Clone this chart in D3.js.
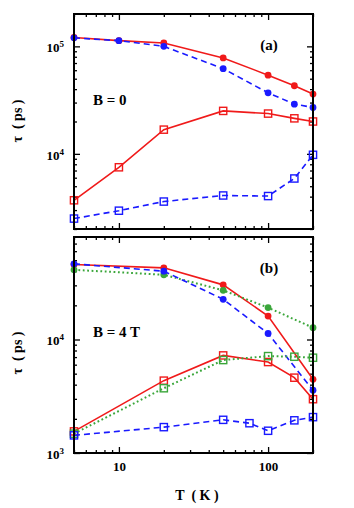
<!DOCTYPE html>
<html>
<head>
<meta charset="utf-8">
<script src="https://cdn.jsdelivr.net/npm/d3@7"></script>
<style>
  body { margin: 0; background: #fff; }
  svg text { font-family: "Liberation Serif", "DejaVu Serif", serif; font-weight: bold; }
</style>
</head>
<body>
<script>
// temperatures (K)
const tempAll = [5, 10, 20, 50, 100, 150, 200];
const tempB = [5, 20, 50, 100, 200];
const tempBSq = [5, 20, 50, 100, 150, 200];
const tempBBlueSq = [5, 20, 50, 75, 100, 150, 200];

// panel (a), B = 0
const aRedCircle = [121000, 113000, 107500, 78000, 54000, 43000, 36000];
const aBlueCircle = [120000, 113000, 100000, 62000, 37000, 29000, 27000];
const aRedSquare = [3700, 7500, 16800, 25100, 23700, 21400, 20000];
const aBlueSquare = [2500, 2960, 3600, 4100, 4050, 5900, 9800];

// panel (b), B = 4 T
const bRedCircle = [45800, 42800, 30300, 16100, 4460];
const bGreenCircle = [41100, 37200, 27100, 19100, 12700];
const bBlueCircle = [46400, 40000, 22600, 11300, 3570];
const bRedSquare = [1550, 4340, 7240, 6330, 4610, 2980];
const bGreenSquare = [1480, 3720, 6590, 7140, 7050, 6910];
const bBlueSquare = [1430, 1690, 1960, 1830, 1570, 1940, 2070];

const xMajor = [10, 100];
const xMinor = [5, 6, 7, 8, 9, 20, 30, 40, 50, 60, 70, 80, 90, 200];

const width = 354, height = 508;
const left = 74, right = 313;

const red = '#f01a1a', blue = '#1a1aff', green = '#3aa63a';

const svg = d3.select('body').append('svg')
  .attr('width', width).attr('height', height);

const x = d3.scaleLog().domain([5, 200]).range([left, right]);

function drawPanel(cfg) {
  const y = d3.scaleLog().domain(cfg.domain).range([cfg.bottom, cfg.top]);
  const g = svg.append('g');
  const h = cfg.bottom - cfg.top;

  // left axis with labels
  g.append('g').attr('transform', 'translate(' + left + ',0)')
    .call(d3.axisLeft(y).tickValues(cfg.yMinor).tickSizeInner(-3).tickSizeOuter(0).tickFormat(''));
  const lab = g.append('g').attr('transform', 'translate(' + left + ',0)')
    .call(d3.axisLeft(y).tickValues(cfg.yMajor).tickSizeInner(-6).tickSizeOuter(0).tickPadding(10).tickFormat(''));
  lab.selectAll('.tick text').each(function (d) {
    const t = d3.select(this).attr('font-size', 13).attr('fill', '#000').attr('dy', '0.4em');
    t.append('tspan').text('10');
    t.append('tspan').attr('dy', '-0.55em').attr('font-size', 9).text(Math.round(Math.log10(d)));
  });
  // right axis
  g.append('g').attr('transform', 'translate(' + right + ',0)')
    .call(d3.axisRight(y).tickValues(cfg.yMinor).tickSizeInner(-3).tickSizeOuter(0).tickFormat(''));
  g.append('g').attr('transform', 'translate(' + right + ',0)')
    .call(d3.axisRight(y).tickValues(cfg.yMajor).tickSizeInner(-6).tickSizeOuter(0).tickFormat(''));
  // bottom axis
  g.append('g').attr('transform', 'translate(0,' + cfg.bottom + ')')
    .call(d3.axisBottom(x).tickValues(xMinor).tickSizeInner(-3).tickSizeOuter(0).tickFormat(''));
  const bx = g.append('g').attr('transform', 'translate(0,' + cfg.bottom + ')')
    .call(d3.axisBottom(x).tickValues(xMajor).tickSizeInner(-6).tickSizeOuter(0).tickPadding(9)
      .tickFormat(cfg.xLabels ? d3.format('d') : ''));
  bx.selectAll('.tick text').attr('font-size', 13).attr('fill', '#000');
  // top axis
  g.append('g').attr('transform', 'translate(0,' + cfg.top + ')')
    .call(d3.axisTop(x).tickValues(xMinor).tickSizeInner(-3).tickSizeOuter(0).tickFormat(''));
  g.append('g').attr('transform', 'translate(0,' + cfg.top + ')')
    .call(d3.axisTop(x).tickValues(xMajor).tickSizeInner(-6).tickSizeOuter(0).tickFormat(''));

  g.selectAll('.domain').remove();
  g.selectAll('.tick line').attr('stroke', '#000').attr('stroke-width', 1.3);

  const plot = g.append('g');
  const line = d3.line().x(d => x(d[0])).y(d => y(d[1]));

  cfg.series.forEach(s => {
    const pts = s.xs.map((t, i) => [t, s.ys[i]]);
    plot.append('path').datum(pts)
      .attr('d', line)
      .attr('fill', 'none')
      .attr('stroke', s.color)
      .attr('stroke-width', s.dash === 'dot' ? 2 : 1.6)
      .attr('stroke-dasharray', s.dash === 'dash' ? '6,4' : s.dash === 'dot' ? '1.8,2.6' : null);
    if (s.marker === 'circle') {
      plot.selectAll(null).data(pts).enter().append('circle')
        .attr('cx', d => x(d[0])).attr('cy', d => y(d[1])).attr('r', 3.4)
        .attr('fill', s.color);
    } else {
      plot.selectAll(null).data(pts).enter().append('rect')
        .attr('x', d => x(d[0]) - 3.6).attr('y', d => y(d[1]) - 3.6)
        .attr('width', 7.2).attr('height', 7.2)
        .attr('fill', 'none').attr('stroke', s.color).attr('stroke-width', 1.4);
    }
  });

  // frame
  g.append('rect').attr('x', left).attr('y', cfg.top)
    .attr('width', right - left).attr('height', h)
    .attr('fill', 'none').attr('stroke', '#000').attr('stroke-width', 2);

  g.append('text').attr('x', 269).attr('y', cfg.top + 36).attr('text-anchor', 'middle')
    .attr('font-size', 15).text(cfg.tag);
  g.append('text').attr('x', 93).attr('y', cfg.fieldY).attr('font-size', 15).text(cfg.field);

  g.append('text')
    .attr('transform', 'translate(22,' + cfg.labelY + ') rotate(-90)')
    .attr('text-anchor', 'middle').attr('font-size', 14)
    .attr('xml:space', 'preserve')
    .text('\u03c4  ( ps )');
}

drawPanel({
  top: 14, bottom: 229, domain: [2000, 200000],
  yMajor: [1e4, 1e5],
  yMinor: [2000, 3000, 4000, 5000, 6000, 7000, 8000, 9000, 20000, 30000, 40000, 50000, 60000, 70000, 80000, 90000],
  xLabels: false, tag: '(a)', field: 'B = 0', fieldY: 105, labelY: 121,
  series: [
    { xs: tempAll, ys: aRedCircle, color: red, dash: null, marker: 'circle' },
    { xs: tempAll, ys: aBlueCircle, color: blue, dash: 'dash', marker: 'circle' },
    { xs: tempAll, ys: aRedSquare, color: red, dash: null, marker: 'square' },
    { xs: tempAll, ys: aBlueSquare, color: blue, dash: 'dash', marker: 'square' }
  ]
});

drawPanel({
  top: 237, bottom: 453, domain: [1000, 80000],
  yMajor: [1e3, 1e4],
  yMinor: [2000, 3000, 4000, 5000, 6000, 7000, 8000, 9000, 20000, 30000, 40000, 50000, 60000, 70000],
  xLabels: true, tag: '(b)', field: 'B = 4 T', fieldY: 337, labelY: 353,
  series: [
    { xs: tempB, ys: bRedCircle, color: red, dash: null, marker: 'circle' },
    { xs: tempB, ys: bGreenCircle, color: green, dash: 'dot', marker: 'circle' },
    { xs: tempB, ys: bBlueCircle, color: blue, dash: 'dash', marker: 'circle' },
    { xs: tempBSq, ys: bRedSquare, color: red, dash: null, marker: 'square' },
    { xs: tempBSq, ys: bGreenSquare, color: green, dash: 'dot', marker: 'square' },
    { xs: tempBBlueSq, ys: bBlueSquare, color: blue, dash: 'dash', marker: 'square' }
  ]
});

svg.append('text').attr('x', 197).attr('y', 500).attr('text-anchor', 'middle')
  .attr('font-size', 14).attr('xml:space', 'preserve').text('T  ( K )');
</script>
</body>
</html>
